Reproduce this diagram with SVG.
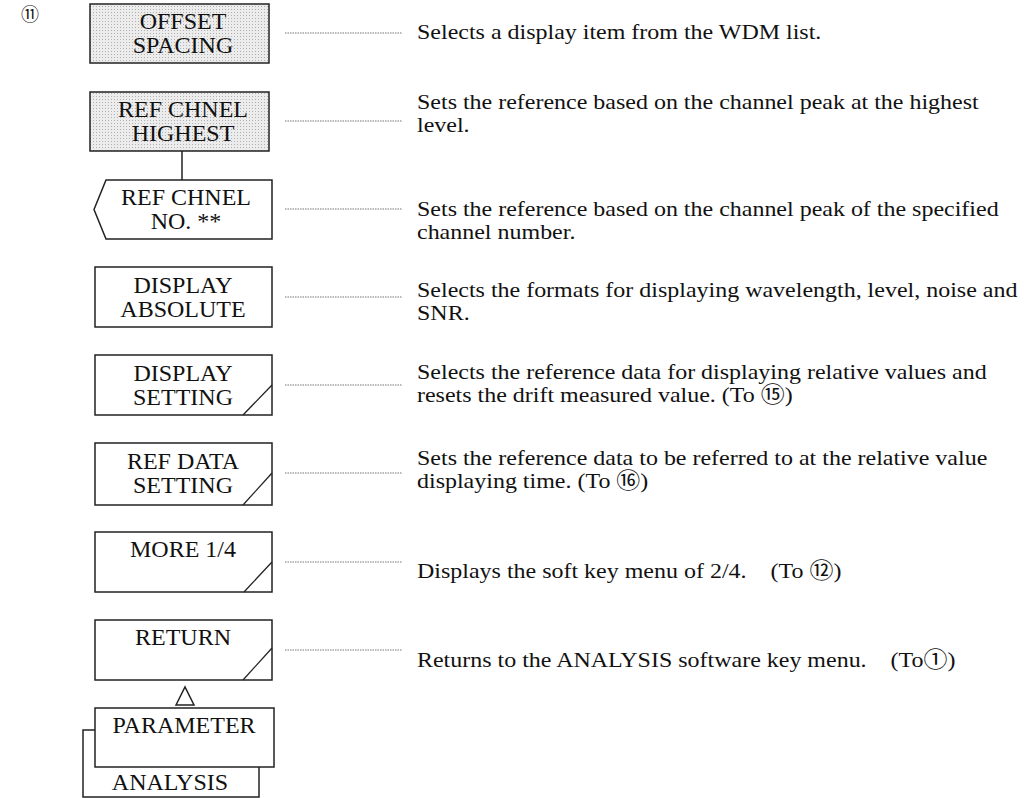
<svg xmlns="http://www.w3.org/2000/svg" width="1027" height="798" viewBox="0 0 1027 798">
<defs>
<pattern id="dots" width="3" height="3" patternUnits="userSpaceOnUse">
<rect width="3" height="3" fill="#ececec"/>
<rect x="0" y="0" width="1" height="1" fill="#b0b0b0"/>
</pattern>
</defs>
<style>
.box{fill:#fff;stroke:#222;stroke-width:1.5}
.shaded{fill:url(#dots);stroke:#222;stroke-width:1.5}
.slash{fill:none;stroke:#222;stroke-width:1.3}
.lbl{font-family:"Liberation Serif","Times New Roman",serif;font-size:24px;fill:#111;text-anchor:middle}
.desc{font-family:"Liberation Serif","Noto Sans CJK JP",serif;font-size:22px;fill:#111}
.con{stroke:#777;stroke-width:1;stroke-dasharray:1.5 1;fill:none}
.line{stroke:#222;stroke-width:1.5;fill:none}
</style>
<rect width="1027" height="798" fill="#fff"/>
<text x="30" y="21" style="font-family:'Noto Sans CJK JP',sans-serif;font-size:18px;fill:#111" text-anchor="middle">⑪</text>

<g id="connectors">
<line class="con" x1="285" y1="33" x2="402" y2="33"/>
<line class="con" x1="285" y1="121" x2="402" y2="121"/>
<line class="line" x1="182" y1="151" x2="182" y2="180"/>
<line class="con" x1="285" y1="209" x2="402" y2="209"/>
<line class="con" x1="285" y1="297" x2="402" y2="297"/>
<line class="con" x1="285" y1="385" x2="402" y2="385"/>
<line class="con" x1="285" y1="473" x2="402" y2="473"/>
<line class="con" x1="285" y1="562" x2="402" y2="562"/>
<line class="con" x1="285" y1="650" x2="402" y2="650"/>
<path class="line" d="M176,705 L185,687 L194,705 Z"/>
</g>

<g id="n-offset">
<rect class="shaded" x="90" y="4" width="179" height="59"/>
<text class="lbl" x="183" y="29">OFFSET</text>
<text class="lbl" x="183" y="53">SPACING</text>
</g>
<g id="n-highest">
<rect class="shaded" x="90" y="92" width="179" height="59"/>
<text class="lbl" x="183" y="117">REF CHNEL</text>
<text class="lbl" x="183" y="141">HIGHEST</text>
</g>
<g id="n-chnelno">
<path class="box" d="M106,180 H272 V239 H106 L94,209.5 Z"/>
<text class="lbl" x="186" y="205">REF CHNEL</text>
<text class="lbl" x="186" y="229">NO. **</text>
</g>
<g id="n-absolute">
<rect class="box" x="95" y="267" width="177" height="60"/>
<text class="lbl" x="183" y="293">DISPLAY</text>
<text class="lbl" x="183" y="317">ABSOLUTE</text>
</g>
<g id="n-dispsetting">
<rect class="box" x="95" y="355" width="177" height="60"/>
<path class="slash" d="M243,415 L272,385"/>
<text class="lbl" x="183" y="381">DISPLAY</text>
<text class="lbl" x="183" y="405">SETTING</text>
</g>
<g id="n-refdata">
<rect class="box" x="95" y="443" width="177" height="62"/>
<path class="slash" d="M243,505 L272,473"/>
<text class="lbl" x="183" y="469">REF DATA</text>
<text class="lbl" x="183" y="493">SETTING</text>
</g>
<g id="n-more">
<rect class="box" x="95" y="532" width="177" height="60"/>
<path class="slash" d="M244,592 L272,562"/>
<text class="lbl" x="183" y="557">MORE 1/4</text>
</g>
<g id="n-return">
<rect class="box" x="95" y="620" width="177" height="60"/>
<path class="slash" d="M243,680 L272,648"/>
<text class="lbl" x="183" y="645">RETURN</text>
</g>
<g id="n-analysis">
<path class="line" d="M95,730 H83 V797 H259 V767"/>
<text class="lbl" x="170" y="790">ANALYSIS</text>
</g>
<g id="n-parameter">
<rect class="box" x="95" y="708" width="179" height="59"/>
<text class="lbl" x="184" y="733">PARAMETER</text>
</g>

<g id="descriptions" transform="translate(417 0) scale(1.09 1)">
<text class="desc" x="0" y="39">Selects a display item from the WDM list.</text>
<text class="desc" x="0" y="109">Sets the reference based on the channel peak at the highest<tspan x="0" dy="23">level.</tspan></text>
<text class="desc" x="0" y="216">Sets the reference based on the channel peak of the specified<tspan x="0" dy="23">channel number.</tspan></text>
<text class="desc" x="0" y="297">Selects the formats for displaying wavelength, level, noise and<tspan x="0" dy="23">SNR.</tspan></text>
<text class="desc" x="0" y="379">Selects the reference data for displaying relative values and<tspan x="0" dy="23">resets the drift measured value. (To ⑮)</tspan></text>
<text class="desc" x="0" y="465">Sets the reference data to be referred to at the relative value<tspan x="0" dy="23">displaying time. (To ⑯)</tspan></text>
<text class="desc" x="0" y="578" xml:space="preserve">Displays the soft key menu of 2/4.    (To ⑫)</text>
<text class="desc" x="0" y="667" xml:space="preserve">Returns to the ANALYSIS software key menu.    (To①)</text>
</g>
</svg>
